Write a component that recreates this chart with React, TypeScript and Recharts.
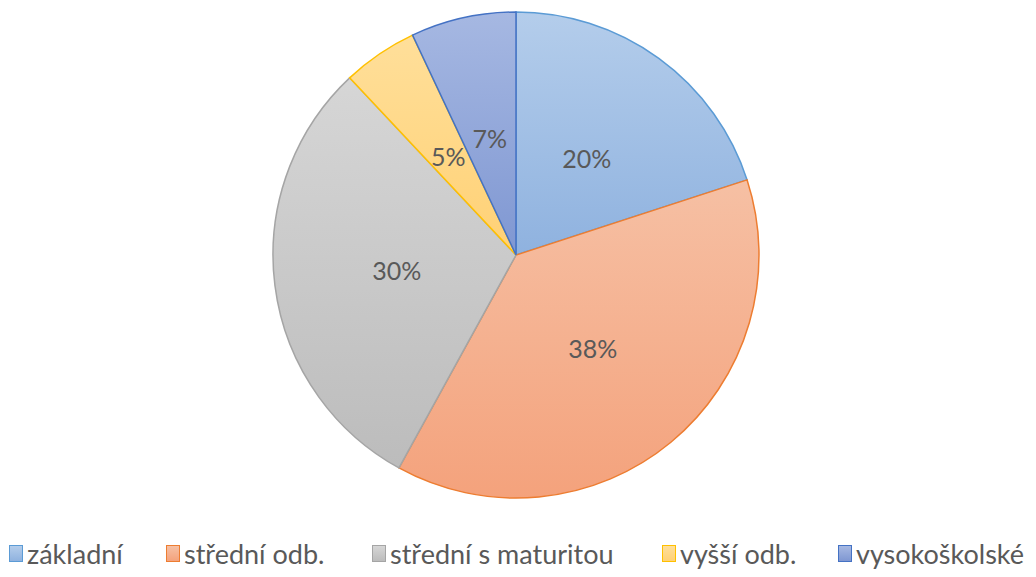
import { PieChart, Pie, Cell } from "recharts";

const categories = ["základní", "střední odb.", "střední s maturitou", "vyšší odb.", "vysokoškolské"];
const shares = [20, 38, 30, 5, 7];
const percentLabels = ["20%", "38%", "30%", "5%", "7%"];

const palette = [
  { top: "#b4cdeb", bottom: "#8fb2df", line: "#5b9bd5" },
  { top: "#f6c0a4", bottom: "#f4a27c", line: "#ed7d31" },
  { top: "#d6d6d6", bottom: "#bcbcbc", line: "#a5a5a5" },
  { top: "#ffdf9a", bottom: "#ffd175", line: "#ffc000" },
  { top: "#a6b8e2", bottom: "#7f97d2", line: "#4472c4" },
];

// left edge of each legend swatch
const legendX = [9, 166, 372, 662, 838];

const data = categories.map((name, i) => ({ name, value: shares[i], label: percentLabels[i] }));

const RAD = Math.PI / 180;

function renderLabel(props: any) {
  const { cx, cy, midAngle, outerRadius, index } = props;
  const r = outerRadius * 0.495;
  const x = cx + r * Math.cos(-midAngle * RAD);
  const y = cy + r * Math.sin(-midAngle * RAD);
  return (
    <text
      x={x}
      y={y}
      fill="#595959"
      fontSize={25}
      fontFamily="Lato, 'Open Sans', sans-serif"
      textAnchor="middle"
      dominantBaseline="central"
    >
      {data[index].label}
    </text>
  );
}

export default function App() {
  return (
    <div style={{ position: "absolute", left: 0, top: 0, width: 1036, height: 577, background: "#fff" }}>
      <PieChart width={1036} height={520} margin={{ top: 0, right: 0, bottom: 0, left: 0 }}>
        <defs>
          {palette.map((c, i) => (
            <linearGradient key={i} id={`slice${i}`} x1="0" y1="0" x2="0" y2="1">
              <stop offset="0%" stopColor={c.top} />
              <stop offset="100%" stopColor={c.bottom} />
            </linearGradient>
          ))}
        </defs>
        <Pie
          data={data}
          dataKey="value"
          nameKey="name"
          cx={516}
          cy={255}
          outerRadius={243}
          startAngle={90}
          endAngle={-270}
          label={renderLabel}
          labelLine={false}
          isAnimationActive={false}
        >
          {data.map((d, i) => (
            <Cell key={d.name} fill={`url(#slice${i})`} stroke={palette[i].line} strokeWidth={1.5} />
          ))}
        </Pie>
      </PieChart>
      {categories.map((c, i) => (
        <div
          key={c}
          style={{
            position: "absolute",
            left: legendX[i],
            top: 535,
            height: 36,
            display: "flex",
            alignItems: "center",
            fontFamily: "Lato, 'Open Sans', sans-serif",
            fontSize: 27,
            color: "#595959",
            whiteSpace: "nowrap",
          }}
        >
          <span
            style={{
              display: "inline-block",
              width: 14,
              height: 17,
              marginRight: 4,
              boxSizing: "border-box",
              background: `linear-gradient(${palette[i].top}, ${palette[i].bottom})`,
              border: `1px solid ${palette[i].line}`,
            }}
          />
          <span>{c}</span>
        </div>
      ))}
    </div>
  );
}
